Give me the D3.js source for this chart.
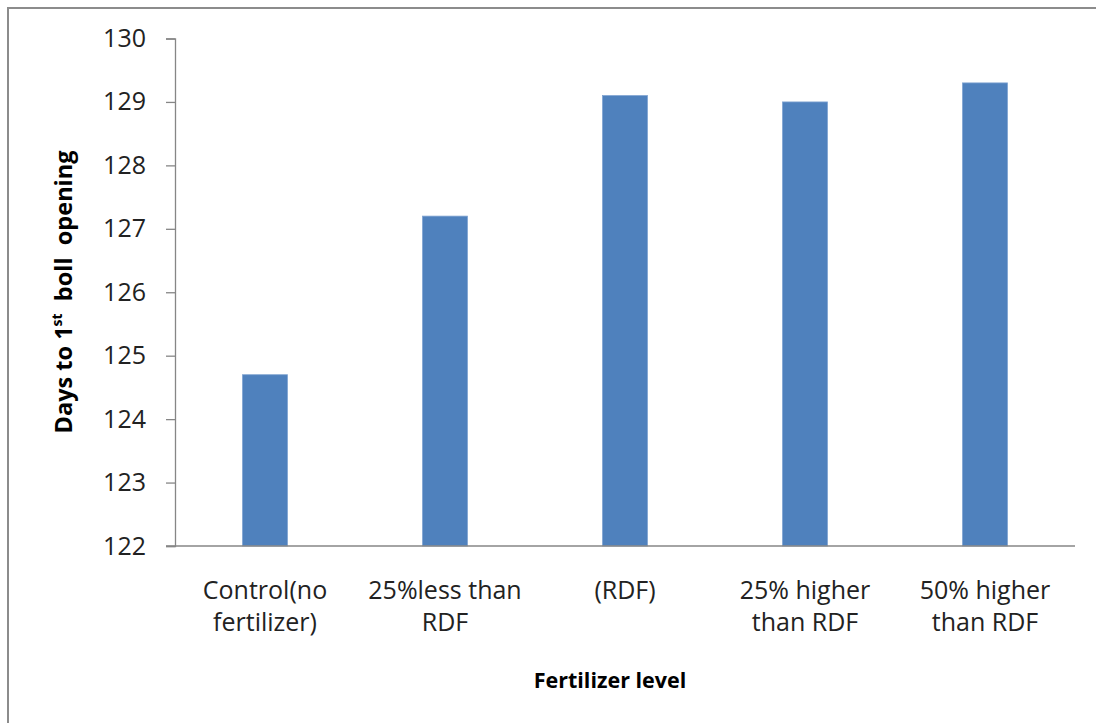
<!DOCTYPE html>
<html>
<head>
<meta charset="utf-8">
<script src="https://cdn.jsdelivr.net/npm/d3@7/dist/d3.min.js"></script>
<style>
  html, body { margin: 0; padding: 0; background: #fff; }
  svg { display: block; }
</style>
</head>
<body>
<svg id="chart" width="1096" height="723"></svg>
<script>
const categories = [
  ["Control(no", "fertilizer)"],
  ["25%less than", "RDF"],
  ["(RDF)"],
  ["25% higher", "than RDF"],
  ["50% higher", "than RDF"]
];
const values = [124.7, 127.2, 129.1, 129.0, 129.3];
const yTicks = [122, 123, 124, 125, 126, 127, 128, 129, 130];
const yTitle = "Days to 1st  boll  opening";
const xTitle = "Fertilizer level";

const W = 1096, H = 723;
const margin = { left: 175, right: 21, top: 38.5, bottom: 177 };
const svg = d3.select("#chart");
const font = "'Open Sans', sans-serif";

// outer frame (top and left visible)
svg.append("line").attr("x1", 8).attr("x2", W).attr("y1", 8).attr("y2", 8)
  .attr("stroke", "#8c8c8c").attr("stroke-width", 2);
svg.append("line").attr("x1", 8).attr("x2", 8).attr("y1", 7).attr("y2", H)
  .attr("stroke", "#8c8c8c").attr("stroke-width", 2);

const x = d3.scaleBand().domain(d3.range(categories.length))
  .range([margin.left, W - margin.right]).paddingInner(0.75).paddingOuter(0.375);
const y = d3.scaleLinear().domain([122, 130]).range([H - margin.bottom, margin.top]);

// bars
svg.append("g").selectAll("rect").data(values).join("rect")
  .attr("x", (d, i) => x(i))
  .attr("width", x.bandwidth())
  .attr("y", d => y(d))
  .attr("height", d => y(122) - y(d))
  .attr("fill", "#4F81BD")
  .attr("stroke", "#7FA3D1")
  .attr("stroke-width", 0.8);

// y axis
const yAxis = svg.append("g").attr("transform", `translate(${margin.left},0)`)
  .call(d3.axisLeft(y).tickValues(yTicks).tickSize(9).tickPadding(20).tickFormat(d3.format("d")));
yAxis.select(".domain").attr("stroke", "#868686").attr("stroke-width", 1.3);
yAxis.selectAll(".tick line").attr("stroke", "#868686").attr("stroke-width", 1.3);
yAxis.selectAll(".tick text").attr("font-family", font).attr("font-size", 25).attr("fill", "#222");

// x axis line
const xa = svg.append("g").attr("transform", `translate(0,${y(122)})`)
  .call(d3.axisBottom(x).tickSize(0).tickFormat(""));
xa.select(".domain").attr("d", `M${margin.left - 9},0H${W - margin.right}`)
  .attr("stroke", "#868686").attr("stroke-width", 1.3);

// x labels
const lbl = svg.append("g").selectAll("text").data(categories).join("text")
  .attr("text-anchor", "middle")
  .attr("font-family", font).attr("font-size", 25).attr("fill", "#222")
  .attr("x", (d, i) => x(i) + x.bandwidth() / 2)
  .attr("y", 599);
lbl.selectAll("tspan").data(d => d).join("tspan")
  .attr("x", function() { return d3.select(this.parentNode).attr("x"); })
  .attr("dy", (d, j) => j === 0 ? 0 : 32)
  .text(d => d);

// x title
svg.append("text").attr("x", 610).attr("y", 688).attr("text-anchor", "middle")
  .attr("font-family", font).attr("font-weight", "bold").attr("font-size", 21.5)
  .attr("fill", "#000").text(xTitle);

// y title with superscript
const yt = svg.append("text").attr("transform", "translate(72,292) rotate(-90)")
  .attr("text-anchor", "middle")
  .attr("font-family", font).attr("font-weight", "bold").attr("font-size", 23.5)
  .attr("fill", "#000").attr("xml:space", "preserve").style("white-space", "pre");
yt.append("tspan").text("Days to 1");
yt.append("tspan").attr("font-size", 14).attr("dy", -10).text("st");
yt.append("tspan").attr("dy", 10).text("  boll  opening");
</script>
</body>
</html>
